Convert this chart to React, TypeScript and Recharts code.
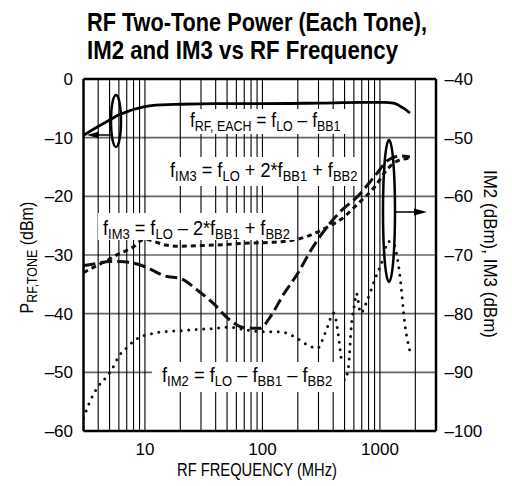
import React from 'react';
import { LineChart, Line, XAxis, YAxis, CartesianGrid, ReferenceLine } from 'recharts';

// RF power of each tone (left axis, dBm)
const toneFreq = [3, 4, 5, 6, 7, 8, 10, 14, 20, 40, 100, 300, 700, 1100, 1300, 1450, 1600, 1800];
const toneDbm = [-9.6, -8.1, -7.0, -6.1, -5.6, -5.2, -4.7, -4.4, -4.3, -4.2, -4.2, -4.1, -4.0, -4.0, -4.1, -4.5, -5.0, -5.8];

// IM3, fLO - 2*fBB1 + fBB2 (right axis, dBm) - short dashes
const im3LowFreq = [3, 3.5, 4, 5, 6, 7, 8, 9, 10, 12, 15, 20, 30, 50, 70, 100, 150, 200, 300, 360, 460, 640, 900, 1180, 1400, 1750];
const im3LowDbm = [-73.0, -72.3, -71.7, -70.7, -69.8, -69.2, -68.6, -67.7, -67.3, -67.7, -68.3, -68.5, -68.4, -68.2, -68.0, -67.9, -67.7, -67.3, -66.0, -65.2, -64.0, -61.4, -58.4, -55.2, -54.0, -53.5];

// IM3, fLO + 2*fBB1 + fBB2 (right axis, dBm) - long dashes
const im3HighFreq = [3, 4, 5, 6, 8, 10, 15, 20, 28, 38, 53, 70, 95, 117, 150, 200, 260, 340, 460, 640, 900, 1180, 1500, 1800];
const im3HighDbm = [-71.8, -71.4, -71.1, -71.1, -71.4, -72.0, -73.6, -74.0, -76.0, -78.2, -81.1, -82.4, -82.5, -80.5, -76.8, -73.1, -69.1, -65.7, -62.6, -60.1, -56.6, -53.8, -53.1, -53.3];

// IM2 (right axis, dBm) - dotted
const im2Freq = [3, 3.4, 4, 4.6, 5.2, 6, 7, 8, 9, 11, 13, 16, 20, 28, 40, 53, 70, 100, 143, 186, 242, 294, 345, 405, 440, 470, 500, 540, 570, 610, 630, 685, 780, 900, 1030, 1180, 1300, 1470, 1640, 1790];
const im2Dbm = [-97.8, -95.0, -92.4, -91.0, -89.6, -87.2, -85.8, -84.7, -84.0, -83.5, -83.2, -83.0, -82.9, -82.7, -82.5, -82.3, -82.7, -83.1, -83.1, -83.9, -85.3, -85.9, -83.1, -79.9, -83.3, -87.9, -91.3, -89.0, -82.2, -78.2, -76.5, -79.9, -77.7, -74.3, -71.4, -67.7, -68.0, -73.1, -82.2, -86.2];

const xTicks = [10, 100, 1000];
const gridFreqs = [4, 5, 6, 7, 8, 9, 10, 20, 30, 40, 50, 60, 70, 80, 90, 100, 200, 300, 400, 500, 600, 700, 800, 900, 1000, 2000];
const leftTicks = [0, -10, -20, -30, -40, -50, -60];
const rightTicks = [-40, -50, -60, -70, -80, -90, -100];

const toPoints = (f: number[], v: number[]) => f.map((x, i) => ({ f: x, v: v[i] }));
const tone = toPoints(toneFreq, toneDbm);
const im3Low = toPoints(im3LowFreq, im3LowDbm);
const im3High = toPoints(im3HighFreq, im3HighDbm);
const im2 = toPoints(im2Freq, im2Dbm);

const dash = (v: number) => (v < 0 ? '\u2013' + Math.abs(v) : String(v));

const FONT = "'Liberation Sans Narrow', 'Liberation Sans', Arial, sans-serif";
const tickStyle = { fill: '#000', fontSize: 17, fontFamily: "'Liberation Sans', Arial, sans-serif" };
const frame = { stroke: '#000', strokeWidth: 2.5 };

// text with subscripts, squeezed horizontally by k (condensed look)
type Part = [string, boolean];
const Formula = ({ x, y, parts, k, size = 21, sub = 15 }: { x: number; y: number; parts: Part[]; k: number; size?: number; sub?: number }) => {
  let down = false;
  return (
    <g transform={`translate(${x} ${y}) scale(${k} 1)`}>
      <text x={0} y={0} fontSize={size} fontFamily={FONT} style={{ whiteSpace: 'pre' }} fill="#000">
        {parts.map(([t, s], i) => {
          const dy = s && !down ? 4 : !s && down ? -4 : 0;
          down = s;
          return (
            <tspan key={i} dy={dy} fontSize={s ? sub : size}>
              {t}
            </tspan>
          );
        })}
      </text>
    </g>
  );
};

export default function App() {
  return (
    <div style={{ position: 'absolute', left: 0, top: 0, width: 512, height: 486, background: '#fff' }}>
      <LineChart width={512} height={486} margin={{ top: 79, right: 0, bottom: 0, left: 0 }}>
        <CartesianGrid vertical={false} stroke="#666" strokeWidth={1.6} />
        {gridFreqs.map((v) => (
          <ReferenceLine key={v} x={v} stroke="#000" strokeWidth={1.1} />
        ))}
        <XAxis dataKey="f" type="number" scale="log" domain={[3, 3000]} allowDataOverflow ticks={xTicks} height={55} tickSize={0} tickMargin={12} axisLine={frame} tick={tickStyle} />
        <YAxis domain={[-60, 0]} ticks={leftTicks} width={83.5} tickSize={0} tickMargin={10.5} axisLine={frame} tick={tickStyle} tickFormatter={dash} />
        <YAxis yAxisId="right" orientation="right" domain={[-100, -40]} ticks={rightTicks} width={76} tickSize={0} tickMargin={8.5} axisLine={frame} tick={{ ...tickStyle, textAnchor: 'start' }} tickFormatter={dash} />
        <ReferenceLine y={0} stroke="#000" strokeWidth={2.5} />
        <Line data={tone} dataKey="v" type="monotone" stroke="#000" strokeWidth={2.8} dot={false} isAnimationActive={false} />
        <Line data={im3Low} dataKey="v" yAxisId="right" type="monotone" stroke="#111" strokeWidth={3} strokeDasharray="5 4" dot={false} isAnimationActive={false} />
        <Line data={im3High} dataKey="v" yAxisId="right" type="monotone" stroke="#111" strokeWidth={3} strokeDasharray="12 5" dot={false} isAnimationActive={false} />
        <Line data={im2} dataKey="v" yAxisId="right" type="monotone" stroke="#111" strokeWidth={3} strokeDasharray="0 7.5" strokeLinecap="round" dot={false} isAnimationActive={false} />
      </LineChart>
      <svg width={512} height={486} style={{ position: 'absolute', left: 0, top: 0, pointerEvents: 'none' }}>
        {/* title */}
        <text x={87} y={31} fontSize={26} fontWeight="bold" fontFamily={FONT} textLength={340} lengthAdjust="spacingAndGlyphs">
          RF Two-Tone Power (Each Tone),
        </text>
        <text x={87} y={59} fontSize={26} fontWeight="bold" fontFamily={FONT} textLength={311} lengthAdjust="spacingAndGlyphs">
          IM2 and IM3 vs RF Frequency
        </text>

        {/* label boxes */}
        <rect x={185} y={109} width={161} height={25} fill="#fff" />
        <rect x={165} y={157} width={196} height={29} fill="#fff" />
        <rect x={98} y={213} width={197} height={27} fill="#fff" />
        <rect x={152} y={362} width={192} height={30} fill="#fff" />

        <Formula x={190} y={127} k={0.83} parts={[['f', false], ['RF, EACH', true], [' = f', false], ['LO', true], [' \u2013 f', false], ['BB1', true]]} />
        <Formula x={170} y={177} k={0.865} parts={[['f', false], ['IM3', true], [' = f', false], ['LO', true], [' + 2*f', false], ['BB1', true], [' + f', false], ['BB2', true]]} />
        <Formula x={103} y={235} k={0.865} parts={[['f', false], ['IM3', true], [' = f', false], ['LO', true], [' \u2013 2*f', false], ['BB1', true], [' + f', false], ['BB2', true]]} />
        <Formula x={162} y={382} k={0.87} parts={[['f', false], ['IM2', true], [' = f', false], ['LO', true], [' \u2013 f', false], ['BB1', true], [' \u2013 f', false], ['BB2', true]]} />

        {/* ellipse + arrow to left axis */}
        <ellipse cx={116} cy={121} rx={5} ry={26} fill="none" stroke="#000" strokeWidth={2.5} />
        <line x1={112} y1={135} x2={95} y2={135} stroke="#000" strokeWidth={1.5} />
        <polygon points="87,135 99,131.5 99,138.5" fill="#000" />

        {/* ellipse + arrow to right axis */}
        <ellipse cx={389} cy={211} rx={6} ry={71} fill="none" stroke="#000" strokeWidth={2.5} />
        <line x1={395} y1={212} x2={418} y2={212} stroke="#000" strokeWidth={1.5} />
        <polygon points="427,212 414,208.5 414,215.5" fill="#000" />

        {/* axis titles */}
        <g transform="rotate(-90 27 257)">
          <Formula x={27 - 56.5} y={263} k={0.89} size={18} sub={14} parts={[['P', false], ['RF,TONE', true], [' (dBm)', false]]} />
        </g>
        <text x={490} y={254} transform="rotate(90 490 254)" textAnchor="middle" dominantBaseline="central" fontSize={18} fontFamily={FONT} textLength={168} lengthAdjust="spacingAndGlyphs">
          IM2 (dBm), IM3 (dBm)
        </text>
        <text x={177} y={476} fontSize={18} fontFamily={FONT} textLength={160} lengthAdjust="spacingAndGlyphs">
          RF FREQUENCY (MHz)
        </text>
      </svg>
    </div>
  );
}
